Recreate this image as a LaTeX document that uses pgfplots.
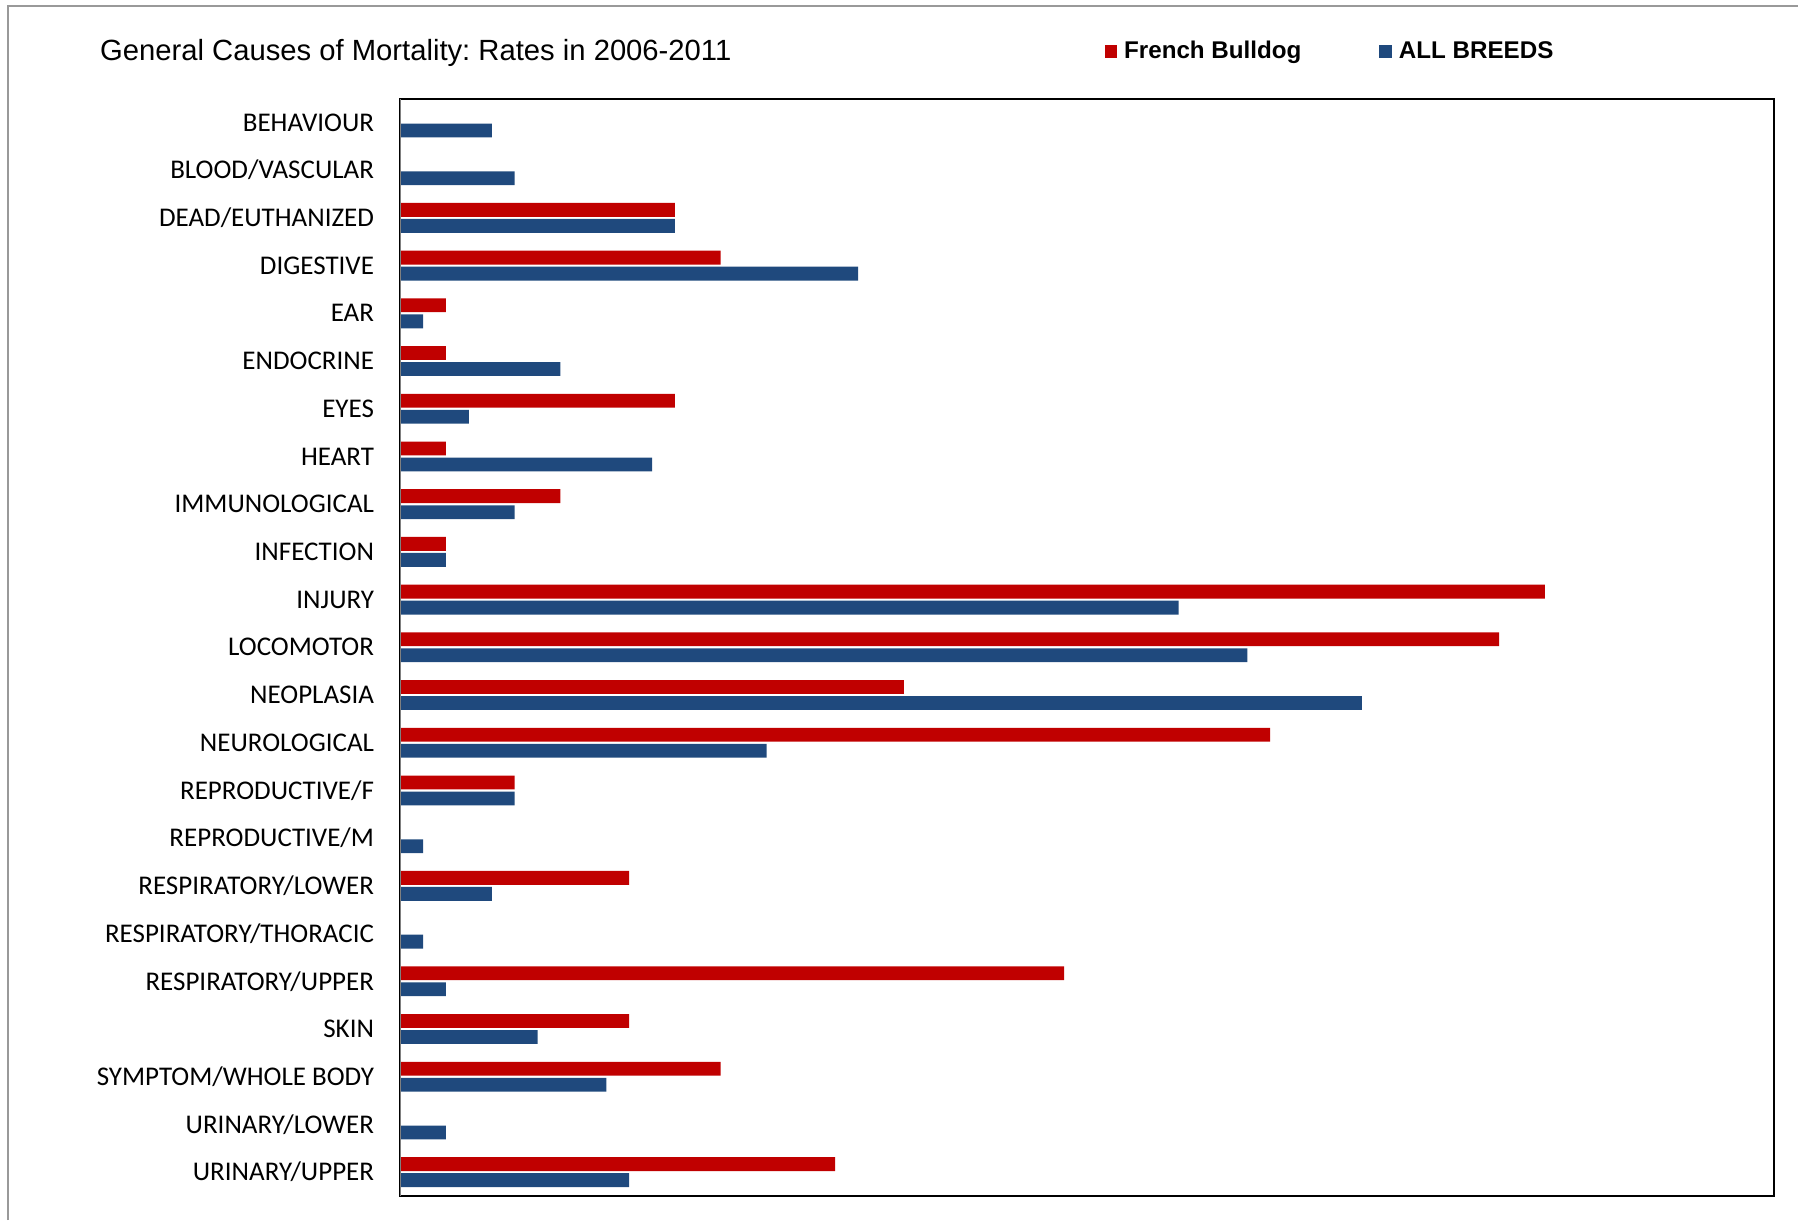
\documentclass[border=0pt]{standalone}
\usepackage{fontspec}
\setmainfont{Liberation Sans}
\newfontfamily\calibri{Carlito}
\usepackage{pgfplots}
\usepackage{pgfplotstable}
\pgfplotsset{compat=1.18}
\definecolor{fbred}{RGB}{192,0,0}
\definecolor{abblue}{RGB}{31,73,125}
\frenchspacing

% idx: category from top; fb = French Bulldog, ab = all breeds
\pgfplotstableread{
idx fb ab
0  0  4
1  0  5
2  12 12
3  14 20
4  2  1
5  2  7
6  12 3
7  2  11
8  7  5
9  2  2
10 50 34
11 48 37
12 22 42
13 38 16
14 5  5
15 0  1
16 10 4
17 0  1
18 29 2
19 10 6
20 14 9
21 0  2
22 19 10
}\mortality

\begin{document}
\begin{tikzpicture}
\useasboundingbox (0,0) rectangle (31.36,21.28);
\draw[gray!80, line width=0.8pt] (0.14,0) -- (0.14,21.18) -- (31.36,21.18);
\node[anchor=west, inner sep=0pt, font=\fontsize{14.5}{17}\selectfont] at (1.74,20.36)
  {General Causes of Mortality: Rates in 2006-2011};
\begin{axis}[
  at={(6.98cm,0.42cm)}, anchor=south west,
  scale only axis, width=23.96cm, height=19.14cm,
  xbar, bar width=0.29,
  xmin=0, xmax=60, ymin=-0.5, ymax=22.5, y dir=reverse,
  xtick=\empty,
  ytick={0,...,22},
  yticklabels={BEHAVIOUR, BLOOD/VASCULAR, DEAD/EUTHANIZED, DIGESTIVE, EAR,
    ENDOCRINE, EYES, HEART, IMMUNOLOGICAL, INFECTION, INJURY, LOCOMOTOR,
    NEOPLASIA, NEUROLOGICAL, REPRODUCTIVE/F, REPRODUCTIVE/M,
    RESPIRATORY/LOWER, RESPIRATORY/THORACIC, RESPIRATORY/UPPER, SKIN,
    SYMPTOM/WHOLE BODY, URINARY/LOWER, URINARY/UPPER},
  major tick length=0,
  yticklabel style={font=\calibri\fontsize{13.4}{15}\selectfont, inner sep=0pt, xshift=-4.5mm},
  axis line style={black, line width=1pt},
  legend columns=2,
  legend style={at={(0.5125,1.043)}, anchor=west, draw=none, fill=none,
    inner sep=0pt, font=\bfseries\fontsize{12}{14}\selectfont,
    nodes={inner sep=1.2mm},
    /tikz/every even column/.append style={column sep=1.24cm}},
  legend image code/.code={\fill[#1] (0cm,-0.11cm) rectangle (0.22cm,0.11cm);},
]
\addplot[fill=fbred, draw=none, bar shift=-0.168] table[x=fb, y=idx] {\mortality};
\addplot[fill=abblue, draw=none, bar shift=0.168] table[x=ab, y=idx] {\mortality};
\draw[gray, line width=1pt] (rel axis cs:0,0) -- (rel axis cs:0,1);
\legend{French Bulldog, ALL BREEDS}
\end{axis}
\end{tikzpicture}
\end{document}
